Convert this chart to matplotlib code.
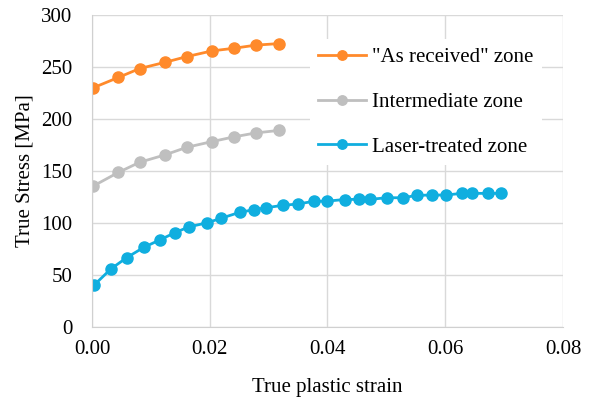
import matplotlib.pyplot as plt

plt.rcParams['font.family'] = ['Liberation Serif', 'DejaVu Serif']

# "As received" zone
asr_strain = [0.0002, 0.0045, 0.0081, 0.0124, 0.0161, 0.0204, 0.0241, 0.0278, 0.0317]
asr_stress = [230, 240, 248.5, 254.5, 260, 265.5, 268, 271, 272.5]

# Intermediate zone
mid_strain = [0.0002, 0.0045, 0.0081, 0.0124, 0.0161, 0.0204, 0.0241, 0.0278, 0.0317]
mid_stress = [135.5, 148.7, 158.4, 165.5, 172.8, 178.3, 182.8, 186.6, 189]

# Laser-treated zone
las_strain = [0.0004, 0.0032, 0.0059, 0.0088, 0.0115, 0.0141, 0.0164, 0.0196, 0.0219,
              0.0251, 0.0275, 0.0296, 0.0324, 0.0350, 0.0377, 0.0399, 0.0429, 0.0454,
              0.0473, 0.0501, 0.0528, 0.0552, 0.0577, 0.0601, 0.0628, 0.0645, 0.0673,
              0.0694]
las_stress = [40.5, 55.8, 66.7, 76.6, 83.7, 90.7, 96.2, 100.3, 104.5,
              110.3, 112.8, 114.7, 117, 118.3, 120.9, 121, 122.6, 122.8,
              122.8, 124.3, 124.3, 126.6, 126.9, 126.9, 128.5, 128.5, 128.5,
              128.5]

orange = '#FF8A2B'
gray = '#BFBFBF'
blue = '#10AEDF'

fig = plt.figure(figsize=(5.98, 4.01), dpi=100)
ax = fig.add_axes([0.1538, 0.1845, 0.7877, 0.7781])

ax.plot(asr_strain, asr_stress, '-o', color=orange, lw=2, ms=8, label='"As received" zone')
ax.plot(mid_strain, mid_stress, '-o', color=gray, lw=2, ms=8, label='Intermediate zone')
ax.plot(las_strain, las_stress, '-o', color=blue, lw=2, ms=8, label='Laser-treated zone')

ax.set_xlim(0, 0.08)
ax.set_ylim(0, 300)
ax.set_xticks([0, 0.02, 0.04, 0.06, 0.08])
ax.set_xticklabels(['0.00', '0.02', '0.04', '0.06', '0.08'])
ax.set_yticks(range(0, 301, 50))
ax.grid(True, color='#D9D9D9', lw=1)
ax.set_axisbelow(True)
for s in ['top', 'right']:
    ax.spines[s].set_visible(False)
for s in ['left', 'bottom']:
    ax.spines[s].set_color('#D0D0D0')
ax.tick_params(axis='y', length=0, labelsize=15, pad=14, colors='black')
ax.tick_params(axis='x', length=0, labelsize=15, pad=9, colors='black')

ax.set_xlabel('True plastic strain', fontsize=15, labelpad=14)
ax.set_ylabel('True Stress [MPa]', fontsize=15, labelpad=5)

leg = ax.legend(loc='upper left', bbox_to_anchor=(0.44, 0.955), fontsize=15,
                frameon=True, facecolor='white', edgecolor='none', framealpha=1,
                handlelength=2.3, handletextpad=0.3, labelspacing=1.2,
                borderpad=0.4, markerscale=0.85)
leg.get_frame().set_boxstyle('square', pad=0)

fig.savefig('out.png', dpi=100)
